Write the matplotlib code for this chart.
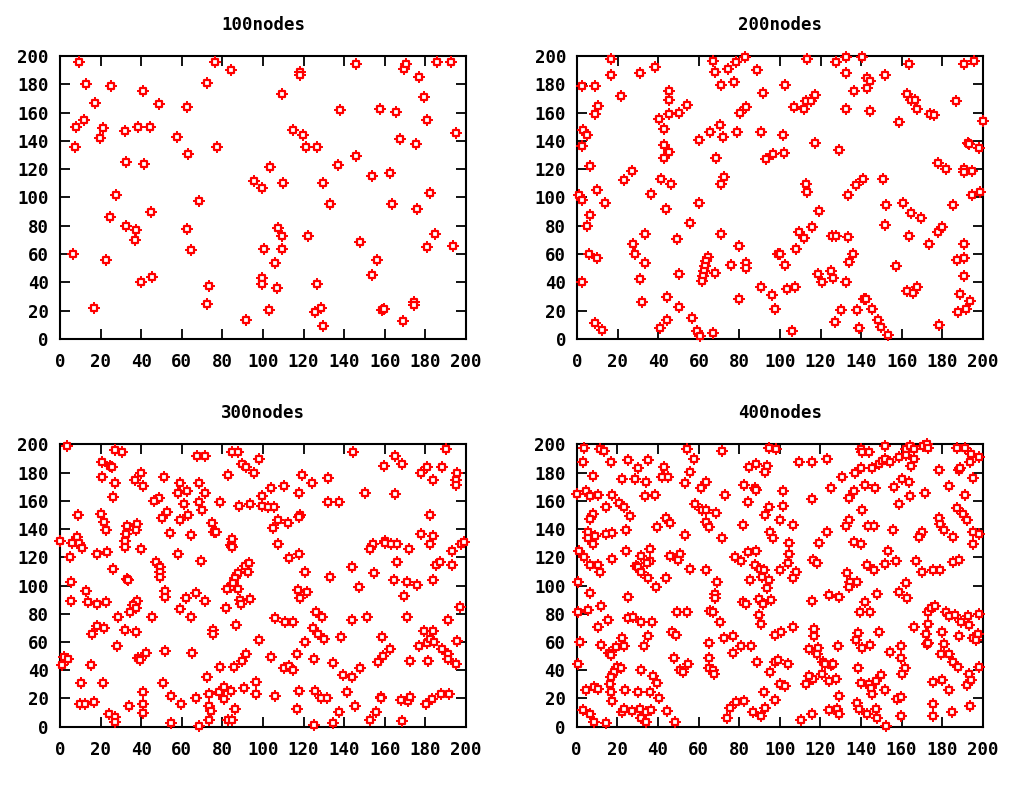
import matplotlib
matplotlib.use('Agg')
import matplotlib.pyplot as plt

# node positions (x, y)
nodes_100 = [
    (9.5, 196), (13, 180), (25, 179), (17, 167), (40.7, 175), (48.8, 166), (12, 155), (8, 150),
    (21, 149), (19.7, 142), (7.2, 135.5), (32, 147), (38.3, 150), (44.2, 150), (32.7, 125),
    (41.4, 124), (27.7, 102), (24.8, 86), (32.7, 80), (37.6, 77), (36.8, 70), (44.7, 90),
    (6.6, 60), (22.5, 56), (39.9, 40), (45.5, 44), (16.9, 21.6), (62.4, 164), (57.5, 143),
    (63, 131), (77.3, 135.5), (72.6, 181), (76.5, 196), (84.4, 190), (68.6, 97.6), (62.4, 77.4),
    (64.7, 62.6), (73.4, 37.4), (72.6, 25), (91.6, 13.6), (95.6, 111.5), (99.7, 107),
    (103.6, 121.6), (110, 110), (109.2, 173), (118, 188.5), (118, 186.5), (114.8, 148),
    (119.5, 144.5), (121.2, 135.5), (126.8, 135.5), (129.7, 110), (133, 95.5), (137.8, 161.6),
    (137, 123), (145.8, 194.6), (145.8, 129.6), (107.5, 78.6), (109.2, 72.7), (100.3, 63.8),
    (109.2, 63.8), (105.9, 53.4), (122, 72.7), (99.7, 43.3), (99.7, 38.6), (106.7, 36.2),
    (102.8, 20.5), (126.8, 38.6), (125.8, 19.3), (128.4, 21.6), (129.7, 9), (148, 68.2),
    (153.7, 115), (157.6, 162.8), (165.7, 160.5), (162.6, 117), (167.3, 141), (163.4, 95.5),
    (156.2, 55.8), (153.7, 45.4), (158.5, 20.5), (159.5, 21.5), (168.8, 12.5), (174.4, 26),
    (174.4, 23.8), (169.6, 191), (170.4, 194.6), (176.7, 185.4), (179.1, 170.8), (180.8, 154.8),
    (175.2, 137.6), (176, 92), (182.3, 103.5), (184.7, 74), (180.8, 65), (185.6, 195.8),
    (192.6, 195.8), (195, 145.6), (193.4, 66),
]

nodes_200 = [
    (16.7, 197.9), (16.7, 186.3), (31, 187.7), (38.3, 192.2), (2.3, 178.5), (8.6, 178.5),
    (21.4, 171.6), (10.4, 164.7), (8.6, 158.8), (3, 147.5), (4.8, 144.1), (2.3, 136.1),
    (6.4, 122.1), (26.9, 118.8), (22.9, 112.2), (9.6, 105.1), (1, 101.8), (2.3, 98.5),
    (13.5, 96.1), (6.4, 87.8), (4.8, 79.8), (5.6, 60.4), (9.6, 57), (2.3, 40), (8.6, 11.1),
    (12, 6.6), (45.3, 175.1), (45.3, 169.2), (45.3, 159), (40.4, 155.5), (43, 148.6), (50, 160),
    (54.1, 165.7), (43, 137.3), (45.3, 132.5), (43, 128), (41.1, 113.1), (46.2, 109.8),
    (36.6, 102.7), (43.9, 91.6), (55.7, 82.1), (33.5, 74.1), (27.7, 67.2), (28.7, 60.4),
    (33.5, 53.5), (49.3, 70.8), (50, 45.7), (31, 42.1), (31.8, 26.3), (44.5, 29.6), (50, 22.7),
    (44.5, 13.5), (40.6, 7.6), (56.6, 14.7), (59, 5.4), (60.7, 2.1), (66.9, 4.3), (59.9, 140.4),
    (65.3, 146.3), (70.2, 151), (71.7, 143), (68.6, 128), (72.6, 114.3), (71, 109.8),
    (59.9, 96.1), (66.9, 196.7), (67.8, 188.9), (74.2, 191), (78.2, 195.7), (82.9, 199),
    (77.3, 181.8), (71, 179.6), (88.5, 189.8), (91.7, 173.7), (80.5, 160), (83, 163.6),
    (79, 146.3), (90.8, 146.3), (93.3, 126.9), (71, 74.1), (79.8, 66), (75.8, 52.5), (83, 53.5),
    (83, 50.2), (79.8, 28.4), (90.8, 36.4), (64.5, 58.2), (63.6, 54.9), (62.9, 51.4),
    (62.3, 47.8), (62, 44.3), (61.5, 40.7), (67.8, 46.6),
    (113.4, 197.9), (127.6, 195.7), (132.6, 199), (140.3, 199), (132.6, 187.7), (102.7, 179.4),
    (117.1, 172.5), (112.9, 168), (115.4, 168), (106.8, 163.6), (111.8, 162.4), (132.6, 162.4),
    (136.4, 175.1), (142.9, 184.1), (144.4, 182), (142.9, 177.3), (144.4, 161.2), (151.7, 186.3),
    (163.6, 194.3), (162.6, 172.8), (164.5, 169.2), (166.5, 169.2), (167.5, 162.4),
    (158.8, 153.1), (173.8, 159.3), (175.8, 158.3), (187, 168), (190.6, 194.3), (195.6, 196.7),
    (200, 154.3), (192.6, 138.5), (193.4, 138), (198.2, 134.9), (177.7, 124.7), (182, 120),
    (190.6, 120), (190.6, 117.9), (194.9, 118.8), (194.7, 101.8), (198.7, 104.1), (185.2, 94.9),
    (101.4, 144.1), (102.1, 131.6), (96.6, 130.4), (117.4, 138.5), (129.3, 133.7),
    (112.6, 109.8), (113.4, 104.1), (119, 90.4), (115.7, 78.8), (109.5, 75.3), (111.8, 71.7),
    (125.7, 72.9), (127.6, 72.9), (107.8, 63.7), (98.9, 60.4), (99.9, 60.4), (102.7, 52.5),
    (103.7, 35.3), (107.5, 36.4), (96, 30.8), (97.3, 21.5), (106, 5.4), (133.4, 101.8),
    (137.3, 108.6), (140.7, 113.1), (150.9, 113.1), (152.5, 94.7), (151.7, 80.9), (133.4, 72),
    (135.9, 60.4), (134.2, 54.7), (118.9, 45.7), (120.5, 40), (125.3, 48), (126.1, 43.3),
    (132.6, 40), (141.5, 28.4), (142.5, 28.4), (129.9, 20.4), (138.2, 20.4), (145.2, 21.3),
    (126.9, 12.3), (138.8, 7.6), (148.4, 13.5), (150, 8.8), (153.3, 3.1), (157.3, 51.4),
    (160.6, 95.9), (164.5, 89), (169.5, 85.7), (163.7, 72.9), (173.3, 67.2), (177.7, 75.3),
    (179.7, 78.8), (190.6, 67.2), (187.3, 55.9), (190.9, 57), (190.6, 44.5), (162.6, 34.1),
    (165.4, 32.2), (167.5, 36.4), (188.6, 32), (193.9, 27.2), (187.6, 19.2), (191.9, 21.5),
    (178.2, 9.9),
]

nodes_300 = [
    (3.3, 198.8), (27.2, 195.7), (30.3, 194.3), (20.5, 187.7), (24.6, 184.7), (25.6, 183.7),
    (20.5, 177.1), (27.2, 172.4), (26.2, 162.7), (39.7, 179.9), (36.7, 175), (40.7, 170.2),
    (51.1, 177.1), (58.9, 172.6), (57.9, 165.8), (62.8, 166.7), (61.3, 157.7), (48.7, 162.2),
    (46.2, 159.9), (52.5, 152.3), (50.2, 147.6), (63, 149.9), (58.9, 146.2), (54.1, 137.2),
    (64.6, 135.8), (9, 149.7), (20, 150.9), (21.6, 145), (22.5, 139.1), (32.8, 141.9),
    (32.5, 136.2), (32.1, 131.5), (32.1, 127.5), (38, 143.3), (37.4, 139.1), (39.7, 125.6),
    (0, 131.5), (8.2, 134.4), (5.9, 130.3), (9.5, 129.9), (10.7, 126.8), (5.1, 120),
    (18.4, 122.6), (23.3, 123.5), (26.2, 111.7), (32.8, 104.6), (33.4, 103.9), (5.2, 102.7),
    (47.5, 116.4), (49.2, 112.9), (49.2, 109.8), (49.2, 106.3), (58.2, 122.3), (12.8, 96.1),
    (5.6, 89.3), (14, 88.1), (18.4, 86.9), (22.5, 88.1), (51.6, 96.1), (51.6, 92.1),
    (37.7, 89.3), (36.1, 86.2), (37.4, 84.3), (34.4, 81.5), (28.7, 77.7), (45.2, 77.7),
    (62, 91.4), (58.9, 83.6), (64.6, 77.7), (18.4, 71.1), (21.6, 69.7), (15.9, 65.4), (32, 68.7),
    (37.4, 67.3), (27.9, 57.1), (2, 49.1), (4.1, 47.9), (0.8, 43.7), (15.1, 43.4), (38.5, 48.4),
    (39.3, 47.2), (42.3, 52.2), (51.8, 53.6), (65.2, 52.2), (10.3, 30.7), (21.3, 30.7),
    (50.8, 30.7), (40.7, 24.8), (54.9, 21.7), (59.8, 16.1), (9.8, 15.8), (12.3, 15.8),
    (16.7, 17.2), (34.1, 14.9), (40.7, 15.8), (40.7, 9.4), (24.1, 9.2), (27.2, 7.1), (27.2, 3.5),
    (54.9, 2.4),
    (67.5, 192), (71.5, 192), (84.9, 194.3), (87.7, 194.3), (89.8, 186.3), (91.8, 183.7),
    (95.4, 179.5), (97.9, 189.6), (82.8, 178), (68.5, 172.4), (71.5, 165.8), (68.5, 158.9),
    (70, 153.2), (78.7, 158.9), (88.2, 156.6), (93.8, 157.5), (99.3, 156.6), (99.3, 163.4),
    (102.6, 155.6), (105.2, 155.6), (104.1, 169.3), (110.5, 170.2), (117.7, 165.8), (119.3, 178),
    (124.1, 172.4), (132.1, 175.9), (132.1, 158.9), (107.2, 146.4), (104.9, 140.5), (112.1, 144),
    (118, 149.9), (117.7, 148.5), (74.8, 144), (75.7, 138.1), (77, 138.1), (84.9, 133.2),
    (84.3, 128.6), (84.9, 127.2), (107.2, 129.4), (69.3, 117.4), (112.8, 119.7), (117.7, 122.3),
    (120.8, 109.8), (132.8, 106), (91.1, 113.8), (93, 115.7), (87.7, 108.9), (92.5, 109.8),
    (86.1, 105.1), (84, 99.2), (85.2, 101.5), (82.3, 97.5), (87.9, 97.5), (66.9, 94.9),
    (71.5, 89.3), (88.5, 89.7), (89.3, 86.7), (93.4, 90.4), (82, 84.3), (117.2, 96.6),
    (118.4, 91.4), (121.6, 95.2), (105.7, 76.7), (110.6, 74.1), (114.8, 74.1), (126.2, 81.2),
    (128.9, 77.4), (124.6, 69.7), (126.9, 65.4), (129.8, 61.9), (86.9, 71.8), (75.4, 68.5),
    (75.4, 65.4), (97.9, 61.6), (120.9, 60.2), (91.5, 51.5), (89.8, 46.5), (85.9, 42.5),
    (78.7, 42), (104.1, 49.1), (116.7, 51.5), (124.9, 47.9), (110.3, 41.3), (112.6, 42.7),
    (114.8, 39.9), (72.5, 35.4), (66.9, 20.3), (73.3, 22.9), (78.3, 24.8), (80.7, 27.9),
    (80.7, 19.4), (84.3, 25.3), (90.5, 27.2), (96.4, 31.9), (96.4, 22.9), (73.4, 14.9),
    (74.6, 11.1), (86.1, 12.5), (73.3, 4.7), (68.5, 0.5), (82.8, 4.7), (84.9, 4.7), (105.9, 22),
    (117.7, 25), (125.6, 25), (128.7, 20.3), (131.7, 20.3), (116.7, 12.5), (124.9, 1.2),
    (144.1, 194.3), (159.8, 184.9), (165.1, 192), (168.5, 186.1), (150.3, 165.8), (165.1, 164.6),
    (137.5, 158.9), (177.9, 179.5), (180.7, 183.9), (183.6, 174.7), (188, 183.9), (190.3, 196.7),
    (195.6, 179.5), (194.9, 174.7), (194.9, 171.2), (182.1, 149.9), (177.9, 136.2),
    (183.6, 135.1), (182.1, 129.2), (197.5, 129.2), (198.8, 130.6), (192.9, 124.4),
    (154.2, 129.2), (152.6, 125.6), (160.2, 131.8), (160.2, 129.9), (163.1, 129.2),
    (166.1, 129.2), (171.8, 125.6), (143.9, 112.9), (154.9, 108.6), (166.1, 116.4),
    (147.1, 99.2), (164.4, 103.9), (170.8, 102.7), (175.7, 100.4), (183.6, 103.9),
    (185.2, 114.5), (187.4, 116.9), (192.9, 114.5), (169.3, 92.3), (196.9, 84.5), (143.9, 75.3),
    (151.2, 77.4), (171, 77.4), (191, 75.3), (179.5, 67.8), (183.8, 67.8), (180.7, 59),
    (182.5, 62.1), (184.4, 60.2), (176.6, 57.4), (188.2, 55.3), (191, 51.2), (191, 47.9),
    (195.6, 60.7), (195, 44.6), (138.2, 63.3), (158.5, 63.3), (162.5, 55.3), (159.2, 50.3),
    (156.6, 45.6), (172.6, 46.5), (181.3, 46.5), (134.3, 45.3), (147.7, 41.3), (139.2, 36.6),
    (143.9, 35.4), (141.2, 24.8), (145.4, 14.9), (137.5, 10.2), (134.3, 2.4), (152.6, 4.7),
    (155.9, 10.2), (158.2, 21.3), (158.2, 20.1), (167.9, 18.9), (171.6, 18.2), (172.6, 20.8),
    (168.5, 4.3), (180.5, 16.3), (183.1, 19.4), (187.7, 22.9), (191.8, 22.9),
]

nodes_400 = [
    (3.8, 197.2), (11.3, 196.7), (13.6, 195.5), (3.1, 187.7), (16.9, 187.2), (25.4, 188.7),
    (35.1, 188.7), (30.3, 183), (43.1, 183.9), (42.1, 177.1), (45.1, 177.1), (8, 177.8),
    (22.3, 175.2), (28.7, 175.2), (34.3, 173.6), (0, 164.6), (4.8, 166.9), (6.7, 163.6),
    (10.5, 164.1), (17.5, 164.1), (33.6, 163.4), (38.5, 164.1), (20.8, 158.7), (23.1, 155.8),
    (14.3, 155.6), (26.4, 149.5), (8, 150.9), (6.7, 147.1), (39.5, 141.7), (43.8, 147.6),
    (46.1, 144), (5.7, 138.1), (5.7, 133.9), (8.9, 134.8), (8, 129.2), (14.3, 136.2),
    (17.5, 137.2), (24.1, 139.3), (1.1, 124.4), (3.4, 120.2), (6.4, 114.5), (10.5, 114.5),
    (11.6, 109.8), (17.5, 118.8), (24.1, 124.4), (31.6, 121.1), (35.9, 125.9), (35.9, 117.4),
    (34.6, 115.7), (29, 114), (30.3, 113.1), (31.9, 109.3), (35.2, 105.1), (46.1, 121.1),
    (43.8, 105.1), (39.2, 99.2), (0.8, 102.7), (6.7, 94.7), (25.4, 91.9), (12, 85.2), (0.5, 81),
    (5.7, 82.4), (15.2, 75.3), (25.4, 77.2), (27.7, 77.7), (31.6, 73.9), (37.2, 73.9),
    (10.3, 70.6), (1.8, 60.2), (12, 57.9), (22.1, 63), (23.1, 56.9), (19.2, 56.4), (35.2, 64),
    (33.3, 56.9), (15.9, 52.2), (16.9, 50.8), (46.7, 66.8), (49, 64.9), (47.7, 48.9),
    (0.8, 44.2), (19.8, 42.5), (21.8, 41.3), (18.5, 39), (16.9, 35.4), (16.2, 30), (31.6, 39.9),
    (37.5, 35.7), (39.5, 30.7), (4.8, 25.7), (8.4, 28.1), (10.7, 26.7), (16.9, 24.8),
    (17.5, 18.2), (23.8, 25.7), (30.3, 24.8), (35.9, 24.8), (40.5, 20.5), (3.1, 11.6),
    (6.7, 8.7), (8.7, 3.5), (14.3, 2.6), (22.5, 10.6), (23.1, 12.5), (27.4, 11.1), (31, 12.5),
    (31.6, 6.4), (34.3, 10.6), (36.6, 11.6), (34.3, 3.1), (44.4, 11.1), (48.4, 3.5),
    (54.1, 196.7), (58, 189.6), (71.5, 195.5), (55.6, 180.6), (53.1, 172.4), (61.3, 169.3),
    (63.6, 173.6), (58.4, 157.7), (61.9, 153.2), (63.6, 153.2), (68.5, 151.6), (63.6, 144.7),
    (65.2, 141.4), (73.1, 164.1), (53.4, 135.8), (71.5, 133.4), (82.6, 171.2), (87.6, 168.8),
    (88.2, 167.7), (84.3, 158.9), (84.9, 183.7), (88.2, 186.3), (93.8, 184.9), (92.8, 180.2),
    (94.8, 197.2), (98.4, 196.7), (94.8, 155.6), (92.8, 149.9), (81.9, 142.9), (95.4, 138.1),
    (96.7, 133.4), (100, 146.2), (50.8, 122.3), (49.8, 118.3), (55.6, 111.7), (63.6, 111),
    (69.2, 102.7), (78, 120.2), (81, 117.4), (84.6, 123.5), (88.2, 124.4), (87.9, 114.5),
    (90.5, 111.7), (92.1, 111), (91.1, 106.3), (85.2, 103.9), (94.8, 103.9), (93.8, 98),
    (100, 111), (68.2, 93.7), (68.2, 90.9), (49.3, 81), (54.3, 81), (65.9, 81.9), (66.9, 81),
    (70.8, 73.9), (81.9, 88.1), (83.6, 86.7), (89.8, 90.4), (92, 86.7), (95.9, 89.5),
    (89.8, 79.1), (90.8, 73), (97.7, 64.9), (100.7, 67.3), (65.2, 59), (72.5, 63), (77.1, 64),
    (81, 57.4), (77.1, 52.2), (85.9, 57.4), (65.2, 48.4), (54.8, 44.6), (51.1, 40.1),
    (52.3, 38.5), (65.2, 41.3), (66.9, 40.4), (67.5, 37.1), (88.8, 45.6), (95.4, 38.5),
    (97.7, 46), (99.3, 47), (100.3, 30), (92.1, 24.3), (97.7, 19.1), (78.7, 17.2), (82.6, 18.4),
    (75.7, 13.5), (73.8, 6.4), (86.6, 10.6), (90.8, 7.8), (92.8, 13.5),
    (109.7, 187.2), (115.9, 187.2), (123.3, 189.6), (101.5, 166.9), (101.5, 156.6),
    (106.4, 142.9), (115.7, 161.3), (125.4, 169.3), (130.8, 177.1), (123.1, 138.1),
    (119.2, 130.1), (104.8, 130.1), (104.8, 122.1), (104.1, 115.7), (108, 109.8), (106.4, 105.1),
    (116.6, 117.8), (118.2, 115.7), (137.2, 179.5), (139.8, 183), (145.4, 183), (142.1, 171.2),
    (147, 169.3), (133.9, 162.2), (136.6, 166.9), (140.5, 153.2), (134.3, 146.4), (132.6, 142.4),
    (143.4, 142.4), (146.4, 142.4), (139.8, 196.7), (143.8, 194.8), (140.5, 194.8), (152, 198.6),
    (148.7, 185.8), (150.6, 188.2), (151.9, 189.6), (136.6, 131.1), (139.8, 129.2),
    (143.1, 114.5), (146.4, 111), (151.9, 115.5), (133.3, 108.6), (134.6, 102.7), (134.3, 98.9),
    (138.2, 102.7), (124.1, 93.3), (129.3, 92.1), (115.9, 89), (141.8, 88.1), (139.5, 81.5),
    (144.4, 81.5), (147.7, 93.7), (106.4, 70.6), (116.9, 69.2), (116.9, 64), (114.6, 55),
    (118.9, 55.5), (118.5, 51.7), (121.1, 46), (122.1, 44.2), (125.4, 43.7), (126.4, 44.6),
    (128.7, 56.9), (138.8, 66.3), (137.5, 61.6), (140.5, 56), (144.4, 57.9), (149, 67.3),
    (104.1, 44.6), (120.8, 37.5), (116.2, 33.5), (112.9, 30.5), (114.3, 36.1), (124.1, 32.3),
    (127.9, 33.8), (138.8, 41.3), (139.8, 30.9), (143.8, 30), (145.5, 22.9), (144.8, 27.2),
    (147.6, 32.3), (149.9, 36.6), (129.3, 22), (102.8, 28.6), (151.9, 26.2), (115.9, 9.2),
    (110.3, 4.5), (124.4, 11.6), (128.3, 12.5), (129, 8.7), (137.9, 16.8), (139.2, 12.5),
    (143.1, 8.7), (147.4, 12.5), (147.7, 5.9), (152.3, 0.5),
    (154.1, 187.2), (159, 191), (162.3, 196.7), (164.3, 199), (166.2, 196.7), (170.8, 199),
    (172.5, 200), (172.8, 197.2), (162, 192.2), (166.2, 189.6), (164.6, 184.9), (187.5, 197.2),
    (191.5, 197.2), (194.4, 192.9), (198, 191), (193.8, 187.7), (178.7, 181.6), (188.2, 182.1),
    (188.9, 183), (195.4, 176.4), (156.4, 170), (160.3, 175.2), (163.6, 173.6), (164.3, 163.4),
    (171.5, 165.5), (183.6, 170.2), (191.5, 164.1), (158.7, 157.5), (187.2, 154.7),
    (190.2, 150.4), (192.1, 146.2), (178.7, 147.6), (179, 143.8), (180.7, 139.3), (185.2, 134.6),
    (195.4, 138.1), (198, 136.2), (195.4, 129.2), (170.2, 138.1), (168.5, 134.6), (155.7, 139.1),
    (153.1, 124.4), (157.4, 117.6), (166.9, 117.4), (170.2, 109.8), (175.7, 111), (179, 111),
    (185.2, 116.4), (188.5, 118.1), (162, 101.5), (158.9, 95.6), (162.6, 91.4), (173.1, 81.5),
    (174.7, 83.8), (176.4, 85.2), (182, 81), (183.6, 78.2), (186.2, 79.1), (189.2, 73.9),
    (193.3, 72), (192.6, 78.6), (198.2, 80), (173.1, 73), (166.2, 70.6), (172.2, 65.9),
    (179.7, 67.3), (188.5, 64), (195.4, 63), (197.7, 65.4), (196.7, 61.4), (172.5, 58.3),
    (172.8, 59.5), (180.7, 58.3), (179.3, 51.2), (183.6, 51.2), (185.2, 45.6), (187.8, 42.3),
    (154.1, 53.1), (159.6, 56.9), (159.6, 48.9), (161.6, 41.3), (160.3, 37.5), (198, 42.3),
    (193.4, 37.5), (192.1, 29.5), (194.4, 33.1), (175.7, 31.9), (180, 32.8), (183.6, 25.7),
    (157.7, 19.6), (159.7, 21), (175.7, 15.8), (175.7, 7.8), (159.7, 7.8), (184.9, 10.6),
    (193.8, 14.6),
]

titles = ["100nodes", "200nodes", "300nodes", "400nodes"]
tick_values = list(range(0, 201, 20))

panels = [nodes_100, nodes_200, nodes_300, nodes_400]
# axes boxes in figure fractions (left, bottom, width, height)
boxes = [
    [0.0586, 0.5725, 0.3965, 0.3569],
    [0.5637, 0.5725, 0.3960, 0.3569],
    [0.0586, 0.0836, 0.3965, 0.3561],
    [0.5632, 0.0836, 0.3965, 0.3561],
]

font = dict(family='DejaVu Sans Mono', weight='bold', size=12.5)

fig = plt.figure(figsize=(10.24, 7.93), dpi=100)
for nodes, title, box in zip(panels, titles, boxes):
    ax = fig.add_axes(box)
    xs, ys = zip(*nodes)
    # gnuplot-ish point: crosshair stubs behind a hollow square ring
    ax.scatter(xs, ys, marker='+', s=8 ** 2, c='red', linewidths=1.4,
               clip_on=False, zorder=3)
    ax.scatter(xs, ys, marker='s', s=4.4 ** 2, facecolors='white', edgecolors='red',
               linewidths=1.6, clip_on=False, zorder=4)
    ax.set_xlim(0, 200)
    ax.set_ylim(0, 200)
    ax.set_xticks(tick_values)
    ax.set_yticks(tick_values)
    ax.set_xticklabels([str(v) for v in tick_values], fontdict=font)
    ax.set_yticklabels([str(v) for v in tick_values], fontdict=font)
    ax.tick_params(direction='in', length=7, width=1.3, top=True, right=True,
                   pad=8)
    ax.tick_params(axis='x', pad=10)
    for sp in ax.spines.values():
        sp.set_linewidth(1.5)
    ax.set_title(title, fontdict=font, pad=19)

fig.savefig('out.png', dpi=100)
